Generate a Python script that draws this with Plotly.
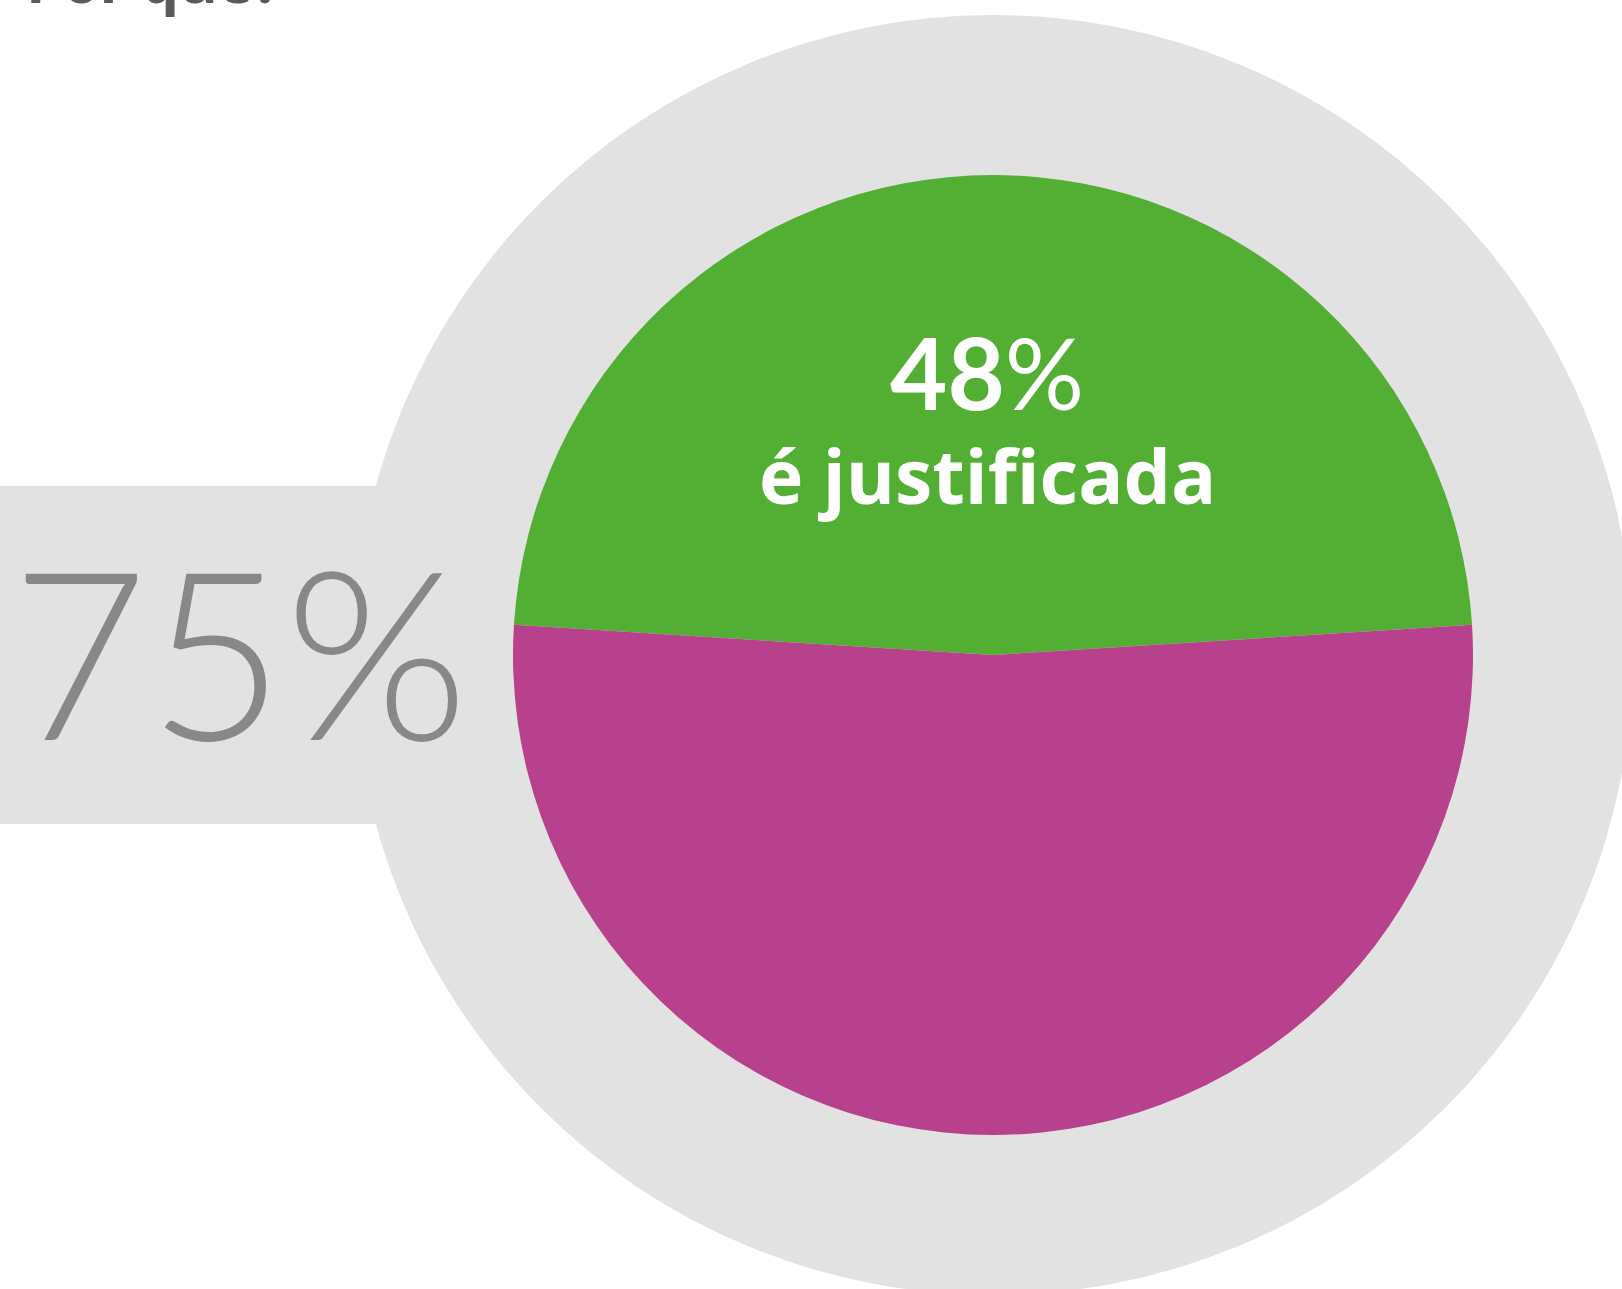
import plotly.graph_objects as go

# Data
labels = ["é justificada", "não é justificada"]
values = [48, 52]
slice_colors = ["#53ae34", "#b8418e"]
headline_value = "75%"
title_text = "Por quê?"

W, H = 1622, 1289
GREY = "#e2e2e2"

# pie geometry (pixels)
cx, cy, r = 993, 655, 480
R_outer = 640

fig = go.Figure()

fig.add_trace(go.Pie(
    labels=labels, values=values, sort=False, direction="clockwise",
    rotation=-values[0] * 3.6 / 2,
    marker=dict(colors=slice_colors, line=dict(width=0)),
    textinfo="none", hoverinfo="label+percent", showlegend=False,
    domain=dict(x=[(cx - r) / W, (cx + r) / W], y=[1 - (cy + r) / H, 1 - (cy - r) / H]),
))

shapes = [
    dict(type="rect", xref="x", yref="y", x0=-10, x1=cx - 300, y0=486, y1=824,
         fillcolor=GREY, line=dict(width=0), layer="below"),
    dict(type="circle", xref="x", yref="y", x0=cx - R_outer, x1=cx + R_outer,
         y0=cy - R_outer, y1=cy + R_outer, fillcolor=GREY, line=dict(width=0), layer="below"),
]

annotations = [
    dict(xref="x", yref="y", x=240, y=648, text=headline_value, showarrow=False,
         font=dict(family="Lato", size=236, color="#888888", weight=300),
         xanchor="center", yanchor="middle"),
    dict(xref="x", yref="y", x=cx - 6, y=371, text=f"<b>{values[0]}</b>%", showarrow=False,
         font=dict(family="Lato", size=99, color="white"), xanchor="center", yanchor="middle"),
    dict(xref="x", yref="y", x=cx - 6, y=475, text=f"<b>{labels[0]}</b>", showarrow=False,
         font=dict(family="Open Sans", size=75, color="white"), xanchor="center", yanchor="middle"),
    dict(xref="x", yref="y", x=24, y=22, text=f"<b>{title_text}</b>", showarrow=False,
         font=dict(family="Open Sans", size=59, color="#5b5b5b"), xanchor="left", yanchor="bottom"),
]

fig.update_layout(
    width=W, height=H, margin=dict(l=0, r=0, t=0, b=0),
    paper_bgcolor="white", plot_bgcolor="rgba(0,0,0,0)",
    xaxis=dict(range=[0, W], visible=False, fixedrange=True),
    yaxis=dict(range=[H, 0], visible=False, fixedrange=True),
    shapes=shapes, annotations=annotations, showlegend=False,
)

fig.write_html("out.html", config={"displayModeBar": False},
               post_script="document.body.style.margin='0';")
